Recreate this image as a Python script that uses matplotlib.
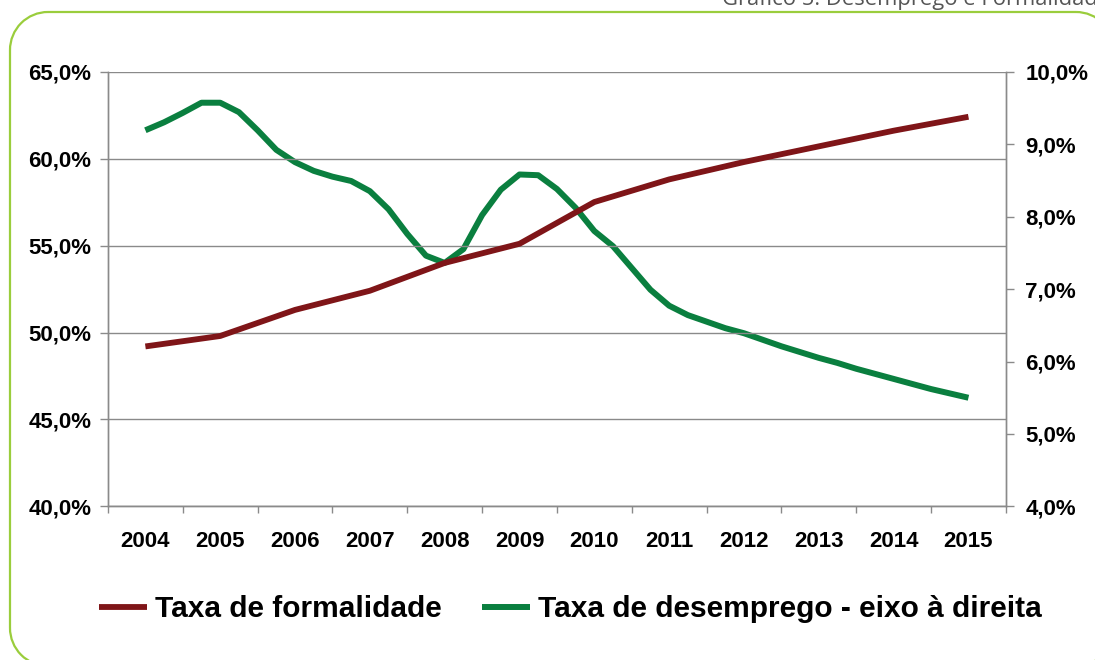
import numpy as np
import matplotlib.pyplot as plt
from matplotlib.patches import PathPatch
from matplotlib.path import Path
from matplotlib.transforms import IdentityTransform, Affine2D

# anos (categorias do eixo x)
years = ['2004', '2005', '2006', '2007', '2008', '2009',
         '2010', '2011', '2012', '2013', '2014', '2015']

# taxa de formalidade (%), um valor por ano - eixo esquerdo
formalidade = [49.2, 49.8, 51.3, 52.4, 54.0, 55.1,
               57.5, 58.8, 59.8, 60.7, 61.6, 62.4]

# taxa de desemprego (%), trimestral - eixo direito
desemprego = [9.19, 9.30, 9.43, 9.57, 9.57, 9.44, 9.19, 8.92,
              8.75, 8.63, 8.55, 8.49, 8.35, 8.10, 7.76, 7.46,
              7.36, 7.55, 8.02, 8.37, 8.58, 8.57, 8.38, 8.12,
              7.80, 7.59, 7.29, 6.99, 6.77, 6.64, 6.55, 6.46,
              6.39, 6.30, 6.21, 6.13, 6.05, 5.98, 5.90, 5.83,
              5.76, 5.69, 5.62, 5.56, 5.50]

red = '#7f1518'
green = '#0a7f3f'
grid_c = '#8a8a8a'

plt.rcParams['font.family'] = ['Liberation Sans', 'DejaVu Sans']

fig = plt.figure(figsize=(10.95, 6.6), dpi=100)
ax = fig.add_axes([0.0986, 0.2326, 0.82, 0.659])
ax2 = ax.twinx()

x_year = np.arange(len(years))
x_q = np.arange(len(desemprego)) / 4

l1, = ax.plot(x_year, formalidade, color=red, lw=4.2, solid_capstyle='butt',
              label='Taxa de formalidade', zorder=3)
l2, = ax2.plot(x_q, desemprego, color=green, lw=4.3, solid_capstyle='butt',
               solid_joinstyle='round', label='Taxa de desemprego - eixo à direita')

ax.set_xlim(-0.5, len(years) - 0.5)
ax.set_ylim(40, 65)
ax2.set_ylim(4, 10)

ax.set_yticks(np.arange(40, 66, 5))
ax.set_yticklabels([f'{v:.1f}%'.replace('.', ',') for v in np.arange(40, 66, 5)])
ax2.set_yticks(np.arange(4, 11, 1))
ax2.set_yticklabels([f'{v:.1f}%'.replace('.', ',') for v in np.arange(4, 11, 1)])

ax.set_xticks(x_year)
ax.set_xticklabels(years)
ax.set_xticks(np.arange(-0.5, len(years)), minor=True)
ax.tick_params(axis='x', which='major', length=0, pad=18)
ax.tick_params(axis='x', which='minor', length=5, color=grid_c, width=1)

for a in (ax, ax2):
    for lab in a.get_xticklabels() + a.get_yticklabels():
        lab.set_fontweight('bold')
        lab.set_fontsize(16)
ax.tick_params(axis='y', length=6, color=grid_c, width=1, pad=6)
ax2.tick_params(axis='y', length=6, color=grid_c, width=1, pad=8)

ax.yaxis.grid(True, color=grid_c, lw=1)
ax.set_axisbelow(True)
for a in (ax, ax2):
    a.spines['top'].set_visible(False)
    for s in ('left', 'right', 'bottom'):
        a.spines[s].set_color(grid_c)
        a.spines[s].set_linewidth(1)

# formalidade desenhada sobre o desemprego
ax.set_zorder(ax2.get_zorder() + 1)
ax.patch.set_visible(False)

fig.legend(handles=[l1, l2], loc='center', bbox_to_anchor=(0.521, 0.077),
           ncol=2, frameon=False, prop={'weight': 'bold', 'size': 21.5},
           handlelength=1.6, handletextpad=0.27, columnspacing=1.35)

# moldura arredondada verde, em pixels; o lado direito fica fora da imagem
L, T, Rt, B, r = 10, 648, 1114, -6, 38


def arc(cx, cy, a1, a2):
    return Path.arc(a1, a2).transformed(Affine2D().scale(r).translate(cx, cy))


pieces = [
    Path([(L + r, T), (Rt - r, T)]),
    arc(L + r, T - r, 90, 180),
    Path([(L, T - r), (L, B + r)]),
    arc(L + r, B + r, 180, 270),
    Path([(L + r, B), (Rt - r, B)]),
    arc(Rt - r, B + r, 270, 360),
    arc(Rt - r, T - r, 0, 90),
]
for p in pieces:
    fig.patches.append(PathPatch(p, transform=IdentityTransform(), fill=False,
                                 edgecolor='#9acd3c', lw=1.6))

fig.text(722 / 1095, 1 - 5 / 660, 'Gráfico 5: Desemprego e Formalidade',
         family='Open Sans', fontsize=15.8, color='#555555', ha='left', va='baseline')

fig.savefig('out.png', dpi=100)
